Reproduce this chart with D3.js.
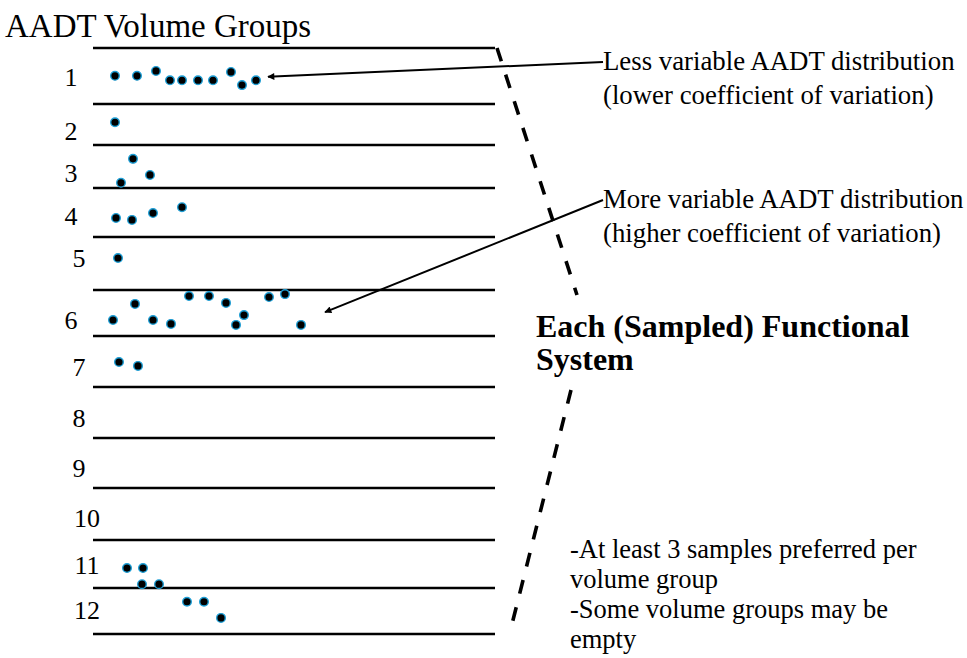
<!DOCTYPE html>
<html>
<head>
<meta charset="utf-8">
<script src="https://cdn.jsdelivr.net/npm/d3@7"></script>
<style>
  body { margin: 0; background: #fff; }
  text { font-family: "Liberation Serif", "Times New Roman", serif; fill: #000; }
</style>
</head>
<body>
<div id="chart"></div>
<script>
// volume groups (tick labels)
var groups = ["1", "2", "3", "4", "5", "6", "7", "8", "9", "10", "11", "12"];

// group boundaries, in volume-group units (hand drawn, slightly uneven)
var groupEdges = [0, 1.147, 1.986, 2.867, 3.870, 4.956, 5.898, 6.942, 7.986, 9.010, 10.075, 11.058, 12];

// where each group number sits, same units
var groupLabelLevel = [0.59, 1.70, 2.56, 3.44, 4.30, 5.57, 6.53, 7.58, 8.60, 9.62, 10.59, 11.51];

// sampled sites: [group, relative AADT position, level]
var samples = [
  [1, 22, 0.57], [1, 44, 0.57], [1, 63, 0.47], [1, 77, 0.66], [1, 89, 0.66],
  [1, 105, 0.66], [1, 120, 0.66], [1, 138, 0.49], [1, 149, 0.76], [1, 163, 0.66],
  [2, 22, 1.52],
  [3, 40, 2.27], [3, 28, 2.76], [3, 57, 2.60],
  [4, 23, 3.48], [4, 39, 3.52], [4, 60, 3.38], [4, 89, 3.26],
  [5, 25, 4.30],
  [6, 20, 5.57], [6, 42, 5.24], [6, 60, 5.57], [6, 78, 5.65], [6, 96, 5.08], [6, 116, 5.08],
  [6, 133, 5.22], [6, 143, 5.67], [6, 151, 5.47], [6, 176, 5.10], [6, 192, 5.04], [6, 208, 5.67],
  [7, 26, 6.43], [7, 45, 6.51],
  [11, 34, 10.65], [11, 50, 10.65], [11, 49, 10.98], [11, 66, 10.98],
  [12, 94, 11.34], [12, 111, 11.34], [12, 128, 11.67]
];

var notes = [
  { lines: ["Less variable AADT distribution", "(lower coefficient of variation)"], tip: [175, 0.59] },
  { lines: ["More variable AADT distribution", "(higher coefficient of variation)"], tip: [232, 5.41] }
];

var sideNote = ["-At least 3 samples preferred per", "volume group", "-Some volume groups may be", "empty"];
var systemLabel = ["Each (Sampled) Functional", "System"];

var width = 967, height = 658;

var svg = d3.select("#chart")
  .append("svg")
  .attr("width", width)
  .attr("height", height);

svg.append("defs").append("marker")
  .attr("id", "head")
  .attr("viewBox", "0 0 10 10")
  .attr("refX", 9).attr("refY", 5)
  .attr("markerUnits", "userSpaceOnUse")
  .attr("markerWidth", 10).attr("markerHeight", 7)
  .attr("orient", "auto")
  .append("path")
  .attr("d", "M0,0 L10,5 L0,10 Z")
  .attr("fill", "#000");

var x = d3.scaleLinear().domain([0, 400]).range([93, 493]);
var y = d3.scaleLinear().domain([0, 12]).range([48, 634]);

// title
svg.append("text")
  .attr("x", 5).attr("y", 37)
  .style("font-size", "33px")
  .text("AADT Volume Groups");

// group boundary lines
svg.append("g").selectAll("line")
  .data(groupEdges)
  .join("line")
  .attr("x1", x(0)).attr("x2", x(402))
  .attr("y1", function(d) { return y(d); })
  .attr("y2", function(d) { return y(d); })
  .attr("stroke", "#000")
  .attr("stroke-width", 2.6);

// group numbers
svg.append("g").selectAll("text")
  .data(groups)
  .join("text")
  .attr("x", function(d, i) {
    if (d.length > 1) return 87;
    return (i < 4 || i == 5) ? 71 : 79;
  })
  .attr("y", function(d, i) { return y(groupLabelLevel[i]); })
  .attr("dy", "0.34em")
  .attr("text-anchor", "middle")
  .style("font-size", "26px")
  .text(function(d) { return d; });

// sample points
svg.append("g").selectAll("circle")
  .data(samples)
  .join("circle")
  .attr("cx", function(d) { return x(d[1]); })
  .attr("cy", function(d) { return y(d[2]); })
  .attr("r", 4.3)
  .attr("fill", "#000")
  .attr("stroke", "#1e9fd6")
  .attr("stroke-width", 1.4);

// annotation arrows + text
var noteY = [70, 208];
notes.forEach(function(n, i) {
  svg.append("line")
    .attr("x1", 603).attr("y1", noteY[i] - 8)
    .attr("x2", x(n.tip[0])).attr("y2", y(n.tip[1]))
    .attr("stroke", "#000")
    .attr("stroke-width", 2)
    .attr("marker-end", "url(#head)");
  svg.append("text")
    .attr("x", 603).attr("y", noteY[i])
    .style("font-size", "26.8px")
    .selectAll("tspan")
    .data(n.lines)
    .join("tspan")
    .attr("x", 603)
    .attr("dy", function(d, j) { return j ? 34 : 0; })
    .text(function(d) { return d; });
});

// dashed bracket towards the functional system label
var dashes = [[[497, 48], [577, 295]], [[571, 390], [510, 632]]];
svg.append("g").selectAll("line")
  .data(dashes)
  .join("line")
  .attr("x1", function(d) { return d[0][0]; }).attr("y1", function(d) { return d[0][1]; })
  .attr("x2", function(d) { return d[1][0]; }).attr("y2", function(d) { return d[1][1]; })
  .attr("stroke", "#000")
  .attr("stroke-width", 3.6)
  .attr("stroke-dasharray", "14,14");

svg.append("text")
  .attr("x", 536).attr("y", 337)
  .style("font-size", "32px")
  .style("font-weight", "bold")
  .selectAll("tspan")
  .data(systemLabel)
  .join("tspan")
  .attr("x", 536)
  .attr("dy", function(d, j) { return j ? 33 : 0; })
  .text(function(d) { return d; });

svg.append("text")
  .attr("x", 570).attr("y", 558)
  .style("font-size", "26.5px")
  .selectAll("tspan")
  .data(sideNote)
  .join("tspan")
  .attr("x", 570)
  .attr("dy", function(d, j) { return j ? 30 : 0; })
  .text(function(d) { return d; });
</script>
</body>
</html>
